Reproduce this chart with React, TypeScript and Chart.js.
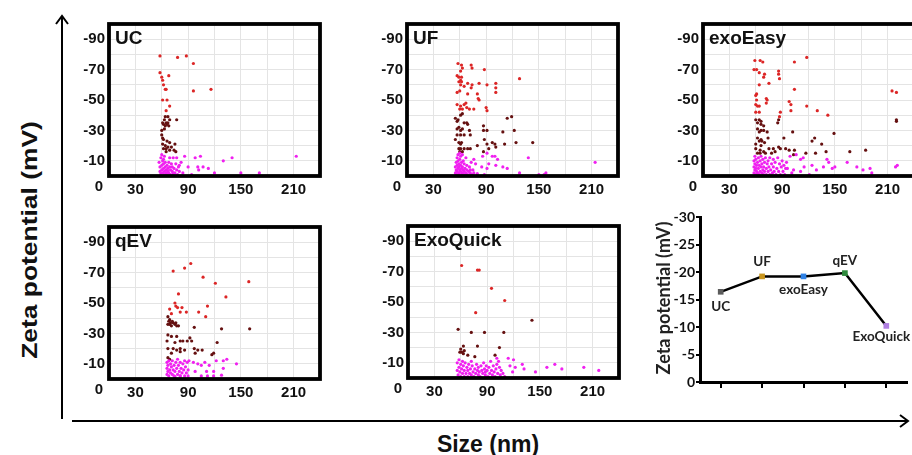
import React, { useEffect, useRef } from "react";
import { Chart, registerables } from "chart.js";
Chart.register(...registerables);

type P = [number, number];

// ---------- scatter panel axes ----------
const X_TICK_LABELS = [30, 90, 150, 210];
const Y_TICK_LABELS = [-90, -70, -50, -30, -10];

// ---------- UC ----------
const UC_RED: P[] = [[58,-79],[78,-78],[88,-79],[96,-74],[58,-68],[60,-65],[61,-63],[68,-66],[62,-60],[64,-57],[65,-57],[96,-56],[116,-57],[61,-50],[66,-50],[69,-46],[65,-43]];
const UC_DARK: P[] = [[67,-39],[64,-39],[63,-37],[69,-37],[77,-37],[61,-35],[65,-35],[66,-34],[62,-34],[64,-33],[67,-35],[60,-30],[61,-25],[62,-24],[66,-23],[69,-22],[75,-21],[61,-21],[64,-20],[67,-19],[62,-18],[65,-18],[71,-19],[69,-17],[74,-17],[76,-16],[65,-16],[60,-27],[63,-31],[68,-33]];
const UC_MAG: P[] = [[60,-14],[63,-13],[69,-12],[73,-12],[77,-12],[86,-13],[98,-12],[104,-13],[130,-10],[140,-12],[213,-13],[80,-7],[90,-6],[101,-6],[107,-6],[102,-4],[113,-5],[120,-2],[150,-2],[171,-2],[84,-2],[94,-1],
  [57,-9],[58,-6],[58,-3],[59,-1.5],[60,-7],[60,-4],[61,-2],[61,-10],[62,-5],[62,-8],[63,-3],[63,-1],[64,-6],[64,-9],[65,-2],[65,-4],[66,-7],[66,-1],[67,-3],[67,-5],[68,-9],[68,-2],[69,-6],[70,-1],[70,-4],[71,-8],[72,-3],[72,-6],[73,-1.5],[74,-5],[75,-2],[76,-8],[77,-4],[78,-1],[79,-6],[80,-3],[82,-9],[59,-12],[62,-11]];

// ---------- UF ----------
const UF_RED: P[] = [[58,-74],[62,-73],[63,-71],[61,-69],[73,-73],[74,-71],[88,-70],[57,-66],[59,-65],[62,-65],[61,-63],[59,-62],[62,-62],[61,-60],[69,-61],[65,-59],[74,-60],[73,-58],[82,-61],[91,-60],[101,-61],[101,-58],[101,-55],[128,-64],[57,-55],[60,-56],[69,-54],[80,-54],[82,-50],[81,-51],[57,-47],[61,-46],[65,-47],[67,-48],[68,-45],[60,-44],[63,-44],[71,-44],[76,-44],[90,-45],[91,-43]];
const UF_DARK: P[] = [[55,-38],[58,-37],[57,-36],[63,-41],[61,-40],[65,-35],[68,-35],[69,-34],[114,-38],[119,-39],[57,-31],[61,-30],[59,-32],[63,-31],[71,-30],[87,-33],[72,-27],[57,-27],[61,-27],[65,-27],[87,-30],[91,-30],[109,-29],[122,-30],[55,-24],[59,-22],[62,-22],[61,-21],[88,-24],[80,-20],[91,-21],[97,-22],[100,-21],[101,-19],[93,-18],[111,-21],[124,-22],[143,-22],[59,-18],[61,-18],[65,-18],[69,-18],[72,-18],[60,-16],[63,-16],[87,-16]];
const UF_MAG: P[] = [[214,-9],[138,-12],[86,-13],[91,-15],[97,-13],[100,-13],[103,-11],[93,-8],[101,-7],[109,-6],[85,-6],[91,-5],[114,-5],[128,-2],[150,-1],[158,-2],[156,-1],[76,-2],[80,-1.5],[88,-1],[72,-4],[78,-8],
  [55,-2],[55,-6],[56,-1],[56,-4],[56,-9],[57,-3],[57,-7],[57,-12],[58,-1],[58,-5],[58,-10],[58,-14],[59,-2],[59,-6],[59,-8],[60,-1],[60,-4],[60,-11],[61,-3],[61,-7],[61,-13],[62,-1],[62,-5],[62,-9],[63,-2],[63,-6],[64,-1],[64,-4],[64,-10],[65,-3],[65,-8],[66,-1],[66,-5],[67,-2],[67,-12],[68,-4],[68,-7],[69,-1],[70,-3],[71,-6],[72,-2],[73,-9],[74,-1],[75,-4],[76,-11],[60,-15],[63,-14]];

// ---------- exoEasy ----------
const EE_RED: P[] = [[59,-76],[65,-76],[68,-75],[118,-78],[104,-75],[58,-70],[61,-70],[64,-68],[70,-67],[69,-65],[86,-69],[86,-67],[87,-64],[64,-60],[75,-61],[104,-57],[61,-54],[60,-53],[61,-50],[72,-51],[73,-50],[72,-48],[60,-47],[62,-46],[64,-46],[215,-56],[220,-55],[98,-49],[100,-47],[100,-43],[118,-46],[130,-43],[142,-40],[60,-42],[64,-42],[88,-42],[87,-39]];
const EE_DARK: P[] = [[60,-37],[64,-37],[66,-36],[62,-35],[66,-34],[69,-33],[86,-37],[85,-35],[220,-37],[220,-36],[62,-31],[66,-30],[69,-30],[73,-29],[64,-29],[102,-29],[149,-28],[62,-25],[66,-24],[67,-23],[64,-23],[70,-22],[74,-25],[60,-21],[66,-20],[92,-25],[127,-25],[124,-23],[135,-21],[86,-19],[88,-18],[94,-18],[98,-17],[104,-17],[117,-15],[128,-15],[140,-16],[167,-16],[185,-17],[60,-18],[65,-17],[69,-16],[75,-18],[80,-18],[62,-15],[65,-15],[71,-15],[78,-15],[82,-16],[103,-14]];
const EE_MAG: P[] = [[99,-13],[106,-14],[111,-11],[114,-12],[141,-11],[143,-9],[150,-6],[137,-6],[147,-5],[124,-7],[129,-4],[164,-9],[175,-6],[182,-4],[190,-5],[192,-2],[219,-6],[221,-7],[121,-1],[103,-4],[96,-5],[111,-3],[101,-2],[115,-6],
  [58,-2],[58,-6],[58,-10],[59,-4],[59,-8],[59,-13],[60,-1],[60,-5],[60,-11],[61,-3],[61,-7],[62,-9],[62,-2],[63,-5],[63,-12],[64,-1],[64,-7],[65,-3],[65,-10],[66,-6],[66,-13],[67,-2],[67,-8],[68,-4],[68,-11],[69,-1],[69,-6],[70,-9],[70,-3],[71,-12],[72,-5],[72,-1],[73,-8],[74,-3],[74,-10],[75,-6],[76,-1],[76,-12],[77,-4],[78,-8],[79,-2],[80,-6],[80,-11],[81,-3],[82,-9],[83,-1],[84,-5],[85,-12],[86,-3],[87,-8],[88,-1],[89,-6],[90,-10],[91,-3],[92,-7],[93,-1],[94,-5],[95,-9]];

// ---------- qEV ----------
const QEV_RED: P[] = [[93,-76],[73,-71],[86,-73],[107,-67],[121,-63],[159,-64],[133,-54],[79,-56],[75,-50],[78,-47],[83,-47],[88,-44],[76,-48],[112,-48],[102,-44],[69,-46],[71,-43],[81,-44],[110,-41]];
const QEV_DARK: P[] = [[67,-41],[69,-39],[73,-37],[76,-37],[67,-36],[71,-35],[69,-36],[75,-36],[79,-35],[72,-38],[68,-38],[70,-37],[77,-35],[97,-34],[128,-33],[160,-33],[67,-29],[71,-28],[77,-28],[81,-25],[84,-25],[89,-25],[92,-27],[94,-25],[66,-25],[75,-24],[123,-24],[67,-20],[73,-20],[77,-19],[81,-18],[71,-17],[67,-14],[69,-13],[81,-20],[86,-19],[97,-20],[101,-19],[106,-19],[98,-17],[117,-16],[119,-17]];
const QEV_MAG: P[] = [[91,-12],[96,-11],[101,-10],[105,-9],[109,-11],[114,-9],[122,-12],[130,-12],[134,-13],[145,-10],[130,-7],[119,-5],[111,-5],[98,-5],[105,-2],[112,-2],[119,-2],[128,-2.5],[75,-1.5],[81,-2],
  [66,-3],[66,-7],[66,-11],[67,-5],[67,-9],[68,-2],[68,-12],[69,-6],[70,-4],[70,-10],[71,-8],[72,-3],[72,-12],[73,-6],[74,-9],[74,-2],[75,-5],[76,-11],[77,-7],[78,-3],[78,-13],[79,-9],[80,-5],[81,-2],[81,-11],[82,-7],[83,-4],[84,-10],[85,-6],[86,-2],[86,-12],[87,-8],[88,-4],[89,-11],[90,-6],[90,-2]];

// ---------- ExoQuick ----------
const EQ_RED: P[] = [[61,-74],[79,-71],[81,-71],[95,-59],[110,-51],[77,-43]];
const EQ_DARK: P[] = [[57,-32],[72,-30],[87,-30],[109,-30],[141,-38],[79,-21],[104,-20],[63,-21],[60,-19],[61,-17],[59,-17],[63,-16],[68,-15],[64,-18],[76,-14],[99,-15]];
const EQ_MAG: P[] = [[114,-13],[120,-12],[116,-8],[130,-9],[132,-6],[145,-4],[158,-7],[167,-9],[175,-6],[200,-7],[217,-5],[101,-13],[103,-11],[122,-7],[119,-4],
  [56,-5],[56,-10],[57,-2],[58,-7],[58,-12],[59,-4],[60,-1],[60,-9],[61,-6],[62,-3],[62,-11],[63,-8],[64,-5],[64,-1],[65,-10],[66,-3],[67,-7],[68,-5],[68,-1],[69,-9],[70,-3],[71,-6],[72,-2],[72,-11],[73,-8],[74,-4],[75,-1],[76,-6],[77,-3],[78,-9],[79,-5],[80,-2],[80,-7],[81,-4],[82,-1],[83,-8],[84,-5],[85,-3],[86,-10],[87,-6],[88,-2],[88,-4],[89,-8],[90,-5],[91,-1],[92,-7],[93,-3],[94,-11],[95,-5],[96,-2],[97,-8],[98,-4],[99,-1],[100,-6],[101,-9],[102,-3],[104,-7],[105,-2],[106,-5],[108,-3],[110,-1]];

// ---------- summary line chart ----------
const METHODS = ["UC", "UF", "exoEasy", "qEV", "ExoQuick"];
const MEAN_ZETA = [-16.4, -19.2, -19.2, -19.8, -10.2];
const SUMMARY_Y_TICKS = [-30, -25, -20, -15, -10, -5, 0];

const METHOD_COLORS = ["#5b5b5b", "#c8951e", "#2f82e6", "#2e8a3c", "#b07fe2"];
const RED = "#dc2626";
const DARK = "#651010";
const MAG = "#f020f0";

const HELV = '"Liberation Sans", Arial, sans-serif';
const LATO = 'Lato, "Open Sans", sans-serif';

const FRAME_W = 211;
const FRAME_H = 159;
const PAD_L = 45;
const PAD_T = 6;
const PAD_R = 6;
const PAD_B = 30;

function toXY(arr: P[]) {
  return arr.map(([x, y]) => ({ x, y }));
}

function ScatterPanel(props: { title: string; red: P[]; dark: P[]; mag: P[]; fx: number; fy: number }) {
  const ref = useRef<HTMLCanvasElement>(null);
  useEffect(() => {
    const title = props.title;
    const framePlugin = {
      id: "frame",
      afterDatasetsDraw(chart: any) {
        const { ctx, chartArea: a } = chart;
        ctx.save();
        ctx.strokeStyle = "#000";
        ctx.lineWidth = 3.8;
        ctx.strokeRect(a.left, a.top, a.right - a.left, a.bottom - a.top);
        ctx.fillStyle = "#111";
        ctx.font = `bold 19px ${HELV}`;
        ctx.textBaseline = "top";
        ctx.textAlign = "left";
        ctx.fillText(title, a.left + 6, a.top + 5);
        ctx.font = `bold 15px ${HELV}`;
        ctx.textAlign = "center";
        ctx.textBaseline = "middle";
        ctx.fillText("0", a.left - 10, a.bottom + 11);
        ctx.restore();
      },
    };
    const ds = (d: P[], c: string) => ({
      data: toXY(d),
      backgroundColor: c,
      borderWidth: 0,
      pointRadius: 1.6,
    });
    const chart = new Chart(ref.current!, {
      type: "scatter",
      data: { datasets: [ds(props.mag, MAG), ds(props.dark, DARK), ds(props.red, RED)] },
      options: {
        animation: false,
        responsive: false,
        events: [],
        layout: { padding: { top: PAD_T, right: PAD_R, left: 0, bottom: 0 } },
        plugins: { legend: { display: false }, tooltip: { enabled: false } },
        scales: {
          x: {
            type: "linear",
            min: 0,
            max: 240,
            afterFit: (s: any) => { s.height = PAD_B; },
            ticks: {
              stepSize: 30,
              autoSkip: false,
              maxRotation: 0,
              padding: 5,
              color: "#111",
              font: { family: HELV, size: 15, weight: "bold" },
              callback: (v: any) => (X_TICK_LABELS.includes(v) ? String(v) : ""),
            },
            grid: { color: "#e4e4e4", lineWidth: 1, drawTicks: false },
            border: { display: false },
          },
          y: {
            type: "linear",
            min: -100,
            max: 0,
            reverse: true,
            afterFit: (s: any) => { s.width = PAD_L; },
            ticks: {
              stepSize: 10,
              autoSkip: false,
              padding: 4,
              color: "#111",
              font: { family: HELV, size: 15, weight: "bold" },
              callback: (v: any) => (Y_TICK_LABELS.includes(v) ? String(v) : ""),
            },
            grid: { color: "#e4e4e4", lineWidth: 1, drawTicks: false },
            border: { display: false },
          },
        },
      } as any,
      plugins: [framePlugin],
    });
    return () => chart.destroy();
  }, []);
  return (
    <canvas
      ref={ref}
      width={FRAME_W + PAD_L + PAD_R}
      height={FRAME_H + PAD_T + PAD_B}
      style={{ position: "absolute", left: props.fx - PAD_L, top: props.fy - PAD_T }}
    />
  );
}

function SummaryChart() {
  const ref = useRef<HTMLCanvasElement>(null);
  useEffect(() => {
    const labelOffsets = [15, -15, 13, -12, 11];
    const labelShiftX = [0, 0, 0, 0, -5];
    const labelPlugin = {
      id: "labels",
      afterDatasetsDraw(chart: any) {
        const { ctx } = chart;
        const meta = chart.getDatasetMeta(0);
        ctx.save();
        ctx.fillStyle = "#222";
        ctx.font = `bold 13.5px ${LATO}`;
        ctx.textAlign = "center";
        ctx.textBaseline = "middle";
        meta.data.forEach((pt: any, i: number) => {
          ctx.fillText(METHODS[i], pt.x + labelShiftX[i], pt.y + labelOffsets[i]);
        });
        ctx.translate(24, 93);
        ctx.rotate(-Math.PI / 2);
        ctx.font = `bold 18px ${LATO}`;
        ctx.fillText("Zeta potential (mV)", 0, 0);
        ctx.restore();
      },
    };
    const chart = new Chart(ref.current!, {
      type: "line",
      data: {
        labels: METHODS,
        datasets: [
          {
            data: MEAN_ZETA,
            borderColor: "#000",
            borderWidth: 2.5,
            pointStyle: "rect",
            pointRadius: 4,
            pointBackgroundColor: METHOD_COLORS,
            pointBorderWidth: 0,
            tension: 0,
          },
        ],
      },
      options: {
        animation: false,
        responsive: false,
        events: [],
        layout: { padding: { top: 12, right: 5, left: 0, bottom: 0 } },
        plugins: { legend: { display: false }, tooltip: { enabled: false } },
        scales: {
          x: {
            type: "category",
            offset: true,
            afterFit: (s: any) => { s.height = 13; },
            ticks: { display: false },
            grid: { display: true, drawOnChartArea: false, drawTicks: true, tickLength: 6, color: "#000", lineWidth: 2, offset: false },
            border: { display: true, color: "#000", width: 3 },
          },
          y: {
            type: "linear",
            min: -30,
            max: 0,
            reverse: true,
            afterFit: (s: any) => { s.width = 60; },
            afterBuildTicks: (s: any) => { s.ticks = SUMMARY_Y_TICKS.map((v) => ({ value: v })); },
            ticks: {
              padding: 1,
              color: "#111",
              font: { family: LATO, size: 14, weight: "bold" },
              callback: (v: any) => String(v),
            },
            grid: { display: true, drawOnChartArea: false, drawTicks: true, tickLength: 4, color: "#000", lineWidth: 2 },
            border: { display: true, color: "#000", width: 3 },
          },
        },
      } as any,
      plugins: [labelPlugin],
    });
    return () => chart.destroy();
  }, []);
  return <canvas ref={ref} width={272} height={190} style={{ position: "absolute", left: 640, top: 205 }} />;
}

export default function App() {
  return (
    <div style={{ position: "fixed", left: 0, top: 0, width: 912, height: 455, overflow: "hidden", background: "#fff" }}>
      <svg width={912} height={455} style={{ position: "absolute", left: 0, top: 0 }}>
        <line x1={62} y1={16} x2={62} y2={419} stroke="#000" strokeWidth={2} />
        <polyline points="56,24 62,16 68,24" fill="none" stroke="#000" strokeWidth={2} />
        <line x1={72} y1={421} x2={908} y2={421} stroke="#000" strokeWidth={2} />
        <polyline points="900,415 908,421 900,427" fill="none" stroke="#000" strokeWidth={2} />
      </svg>
      <div
        style={{
          position: "absolute",
          left: 30,
          top: 240,
          transform: "translate(-50%, -50%) rotate(-90deg) scaleX(1.2)",
          font: `bold 22px ${HELV}`,
          whiteSpace: "nowrap",
          color: "#111",
        }}
      >
        Zeta potential (mV)
      </div>
      <div
        style={{
          position: "absolute",
          left: 488,
          top: 444,
          transform: "translate(-50%, -50%)",
          font: `bold 23px ${HELV}`,
          whiteSpace: "nowrap",
          color: "#111",
        }}
      >
        Size (nm)
      </div>
      <ScatterPanel title="UC" red={UC_RED} dark={UC_DARK} mag={UC_MAG} fx={109} fy={17} />
      <ScatterPanel title="UF" red={UF_RED} dark={UF_DARK} mag={UF_MAG} fx={407} fy={17} />
      <ScatterPanel title="exoEasy" red={EE_RED} dark={EE_DARK} mag={EE_MAG} fx={703} fy={17} />
      <ScatterPanel title="qEV" red={QEV_RED} dark={QEV_DARK} mag={QEV_MAG} fx={109} fy={220} />
      <ScatterPanel title="ExoQuick" red={EQ_RED} dark={EQ_DARK} mag={EQ_MAG} fx={408} fy={219} />
      <SummaryChart />
    </div>
  );
}
